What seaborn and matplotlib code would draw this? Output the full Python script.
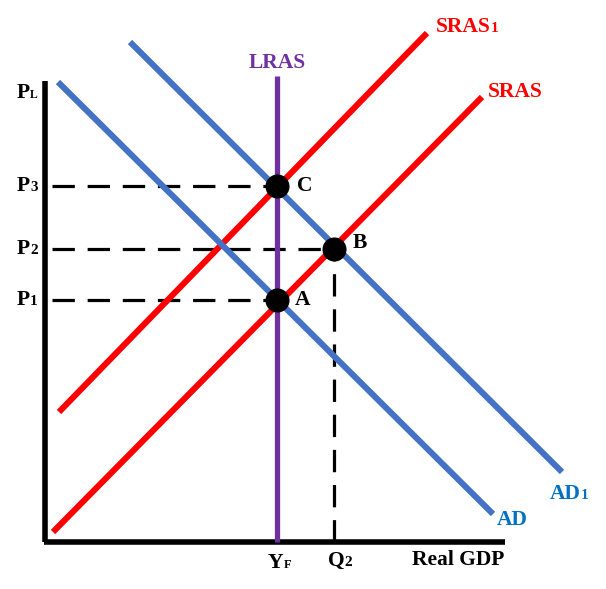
import matplotlib
matplotlib.use("Agg")
import matplotlib.pyplot as plt
import seaborn as sns
import pandas as pd

# ---- data (origin at the axis corner, x = output, y = price level) ----
ad_x = [13, 448]
ad_y = [460, 28]
ad1_x = [85, 517]
ad1_y = [500, 70]
sras_x = [8, 437]
sras_y = [10, 445]
sras1_x = [14, 382]
sras1_y = [130, 509]
lras_x = [232, 232]
lras_y = [0, 466]
eq_names = ["C", "B", "A"]
eq_x = [232, 289, 232]
eq_y = [356, 293, 242]
price_names = ["3", "2", "1"]
price_levels = [356, 293, 242]
q2_value = 289

sns.set_theme(style="white")
plt.rcParams["font.family"] = ["Liberation Serif", "DejaVu Serif"]

W, H = 606, 589
fig = plt.figure(figsize=(W / 100, H / 100), dpi=100)
ax = fig.add_axes([0, 0, 1, 1])
OX, OY = 45, 542  # pixel position of data origin
ax.set_xlim(-OX, W - OX)
ax.set_ylim(OY - H, OY)
ax.axis("off")

BLUE = "#4472C4"
RED = "#FF0000"
PURPLE = "#7030A0"
LBLUE = "#0070C0"

def line(xs, ys, color, lw, **kw):
    sns.lineplot(x=xs, y=ys, color=color, lw=lw, estimator=None, sort=False,
                 ax=ax, solid_capstyle="butt", **kw)

# axes
line([0, 0], [0, 461], "black", 4)
line([-1, 460], [0, 0], "black", 4)

# dashed guides
for p, ex in zip(price_levels, eq_x):
    sns.lineplot(x=[7, ex], y=[p, p], color="black", lw=2.3, ax=ax,
                 estimator=None, sort=False, dashes=False,
                 linestyle=(0, (7, 4)), zorder=2)
sns.lineplot(x=[q2_value, q2_value], y=[0, eq_y[1]], color="black", lw=2.3,
             ax=ax, estimator=None, sort=False, linestyle=(0, (7, 4)), zorder=2)

# curves
line(lras_x, lras_y, PURPLE, 3.8, zorder=3)
line(sras_x, sras_y, RED, 4.4, zorder=4)
line(sras1_x, sras1_y, RED, 4.4, zorder=4)
line(ad_x, ad_y, BLUE, 4.4, zorder=5)
line(ad1_x, ad1_y, BLUE, 4.4, zorder=5)

# equilibrium points
sns.scatterplot(x=eq_x, y=eq_y, s=300, color="black", edgecolor="black",
                linewidth=0, ax=ax, zorder=6, legend=False)

fig.canvas.draw()
renderer = fig.canvas.get_renderer()

def px(x, y):
    return x - OX, OY - y

def label(x, y, main, size, color="black", sub=None, subsize=None, ha="left"):
    dx, dy = px(x, y)
    t = ax.text(dx, dy, main, fontsize=size, color=color, fontweight="bold",
                ha=ha, va="baseline", zorder=7)
    if sub:
        bb = t.get_window_extent(renderer)
        base = ax.transData.transform((dx, dy))[1]
        fig.text(bb.x1 / W, base / H, sub, fontsize=subsize, color=color,
                 fontweight="bold", ha="left", va="baseline", zorder=7)
    return t

# price labels
label(17, 98, "P", 15.5, sub="L", subsize=8.5)
for name, p in zip(price_names, price_levels):
    label(17, OY - p + 5, "P", 15.5, sub=name, subsize=11)

# curve labels
label(277, 68, "LRAS", 15.5, color=PURPLE, ha="center")
label(436, 32, "SRAS", 15.5, color=RED, sub="1", subsize=11)
label(488, 97, "SRAS", 15.5, color=RED)
label(550, 499, "AD", 15.5, color=LBLUE, sub="1", subsize=11)
label(497, 525, "AD", 15.5, color=LBLUE)

# point labels
for name, (lx, ly) in zip(eq_names, [(297, 191), (353, 248), (295, 305)]):
    label(lx, ly, name, 15.5)

# x labels
label(268, 568, "Y", 15.5, sub="F", subsize=9)
label(328, 566, "Q", 15.5, sub="2", subsize=11)
label(412, 565, "Real GDP", 15.5)

fig.savefig("out.png", dpi=100)
